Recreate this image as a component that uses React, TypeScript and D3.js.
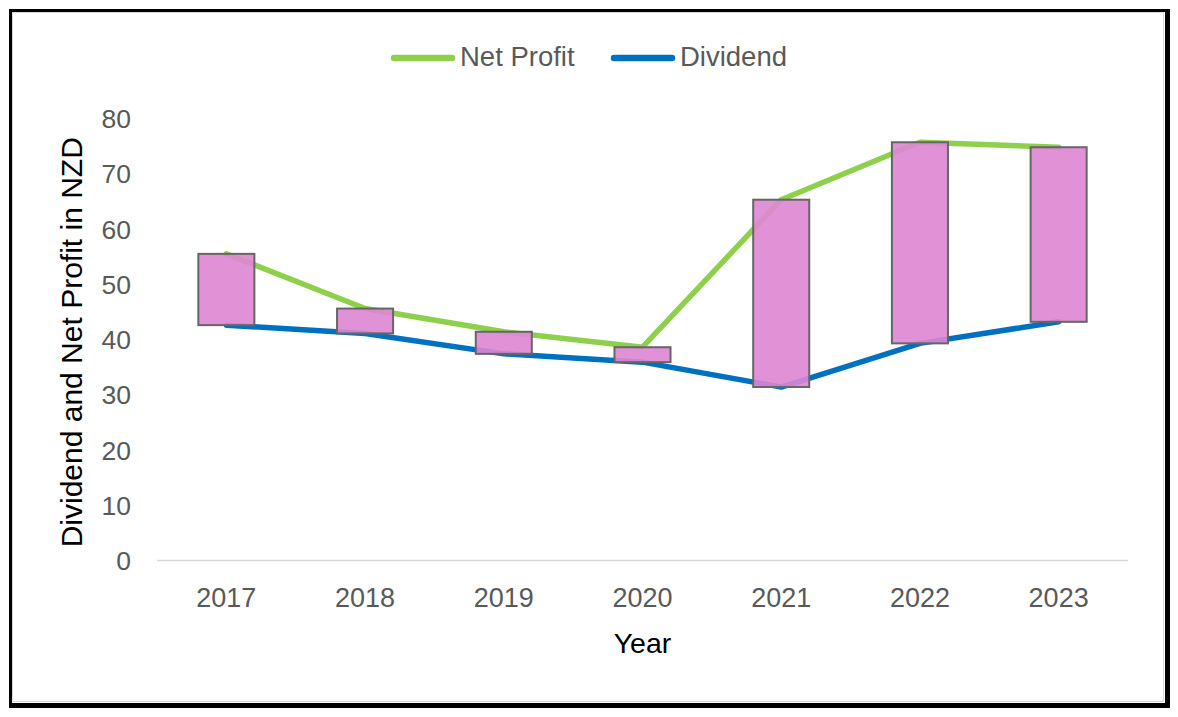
import React, { useEffect, useRef, FC } from "react";
import * as d3 from "d3";

// chart values
const years = ["2017", "2018", "2019", "2020", "2021", "2022", "2023"];
const netProfit = [55.5, 45.6, 41.4, 38.6, 65.3, 75.7, 74.8];
const dividend = [42.6, 41.1, 37.4, 35.9, 31.4, 39.3, 43.2];
const yTicks = [0, 10, 20, 30, 40, 50, 60, 70, 80];
const seriesNames = ["Net Profit", "Dividend"];

const W = 1178;
const H = 717;
const GREEN = "#8ED04C";
const BLUE = "#0070C0";
const FONT = "'Liberation Sans', Arial, sans-serif";

const App: FC = () => {
  const canvas = useRef(null);

  useEffect(() => {
    d3.select(canvas.current).html("");
    draw();
  }, []);

  function draw() {
    const svg = d3.select(canvas.current);

    // frame with heavier right/bottom edge
    svg.append("rect").attr("x", 9).attr("y", 9).attr("width", 1161).attr("height", 699).style("fill", "#000");
    svg.append("rect").attr("x", 12).attr("y", 12).attr("width", 1153).attr("height", 691).style("fill", "#fff");
    svg
      .append("rect")
      .attr("x", 12.5)
      .attr("y", 12.5)
      .attr("width", 1151)
      .attr("height", 689)
      .style("fill", "none")
      .style("stroke", "#d9d9d9")
      .style("stroke-width", 1);

    const x = d3.scaleBand().domain(years).range([157, 1128]);
    const y = d3.scaleLinear().domain([0, 80]).range([560.5, 118.5]);
    const cx = (d: string) => (x(d) as number) + x.bandwidth() / 2;

    // baseline
    svg
      .append("line")
      .attr("x1", 157)
      .attr("x2", 1128)
      .attr("y1", y(0))
      .attr("y2", y(0))
      .style("stroke", "#d9d9d9")
      .style("stroke-width", 1.5);

    // y tick labels
    svg
      .append("g")
      .selectAll("text")
      .data(yTicks)
      .join("text")
      .attr("x", 131)
      .attr("y", (d) => y(d))
      .attr("dy", "0.36em")
      .attr("text-anchor", "end")
      .style("font-family", FONT)
      .style("font-size", "26.5px")
      .style("fill", "#595959")
      .text((d) => d);

    // x tick labels
    svg
      .append("g")
      .selectAll("text")
      .data(years)
      .join("text")
      .attr("x", (d) => cx(d))
      .attr("y", 607)
      .attr("text-anchor", "middle")
      .style("font-family", FONT)
      .style("font-size", "27px")
      .style("fill", "#595959")
      .text((d) => d);

    // axis titles
    svg
      .append("text")
      .attr("transform", "translate(82," + y(39.5) + ") rotate(-90)")
      .attr("text-anchor", "middle")
      .style("font-family", FONT)
      .style("font-size", "30px")
      .style("fill", "#000")
      .text("Dividend and Net Profit in NZD");
    svg
      .append("text")
      .attr("x", 642.5)
      .attr("y", 652.5)
      .attr("text-anchor", "middle")
      .style("font-family", FONT)
      .style("font-size", "28.5px")
      .style("fill", "#000")
      .text("Year");

    // lines
    const line = d3
      .line<number>()
      .x((d, i) => cx(years[i]))
      .y((d) => y(d));
    [
      { vals: netProfit, color: GREEN },
      { vals: dividend, color: BLUE },
    ].forEach((s) => {
      svg
        .append("path")
        .attr("d", line(s.vals) as string)
        .style("fill", "none")
        .style("stroke", s.color)
        .style("stroke-width", 5.5)
        .style("stroke-linecap", "round")
        .style("stroke-linejoin", "round");
    });

    // up-down bars between the two series
    const barW = x.bandwidth() * 0.404;
    svg
      .append("g")
      .selectAll("rect")
      .data(years)
      .join("rect")
      .attr("x", (d) => cx(d) - barW / 2)
      .attr("width", barW)
      .attr("y", (d, i) => y(Math.max(netProfit[i], dividend[i])))
      .attr("height", (d, i) => Math.abs(y(netProfit[i]) - y(dividend[i])))
      .style("fill", "#DE86D3")
      .style("fill-opacity", 0.9)
      .style("stroke", "#666666")
      .style("stroke-width", 2);

    // legend
    const legend = [
      { name: seriesNames[0], color: GREEN, x0: 391 },
      { name: seriesNames[1], color: BLUE, x0: 611 },
    ];
    const lg = svg.append("g");
    legend.forEach((l) => {
      lg.append("line")
        .attr("x1", l.x0 + 3)
        .attr("x2", l.x0 + 61)
        .attr("y1", 58)
        .attr("y2", 58)
        .style("stroke", l.color)
        .style("stroke-width", 6.5)
        .style("stroke-linecap", "round");
      lg.append("text")
        .attr("x", l.x0 + 69)
        .attr("y", 65.5)
        .style("font-family", FONT)
        .style("font-size", "27.5px")
        .style("fill", "#595959")
        .text(l.name);
    });
  }

  return (
    <svg
      ref={canvas}
      width={W}
      height={H}
      style={{ position: "absolute", left: 0, top: 0, display: "block", background: "#fff" }}
    ></svg>
  );
};

export default App;
